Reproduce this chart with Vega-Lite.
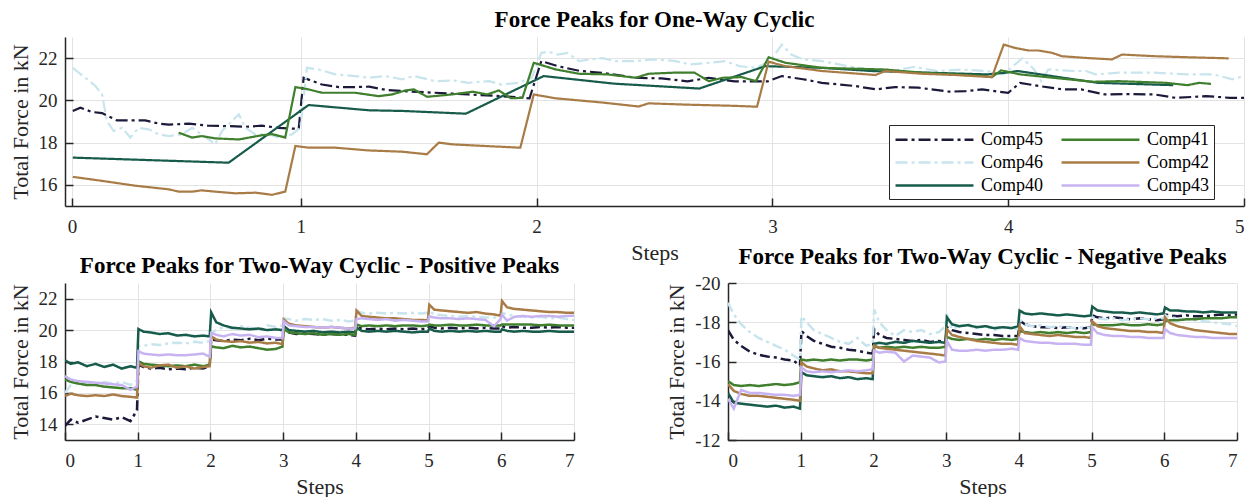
{
 "$schema": "https://vega.github.io/schema/vega-lite/v6.json",
 "padding": {"left": 8, "top": 9, "right": 5, "bottom": 0},
 "background": "white",
 "config": {
  "font": "Liberation Serif",
  "view": {"stroke": null},
  "title": {"font": "Liberation Serif", "fontSize": 23, "fontWeight": "bold", "color": "black", "anchor": "middle", "offset": 5, "frame": "group"},
  "axis": {"labelFont": "Liberation Serif", "labelFontSize": 19, "labelColor": "#262626", "titleFont": "Liberation Serif", "titleFontSize": 22, "titleFontWeight": "normal", "titleColor": "#262626", "domainColor": "#262626", "domainWidth": 1.5, "tickColor": "#262626", "tickSize": -8, "tickWidth": 1.5, "gridColor": "#e3e3e3", "gridWidth": 1, "labelPadding": 16, "titlePadding": 6},
  "axisX": {"labelPadding": 19},
  "axisY": {"labelPadding": 16},
  "legend": {"labelFont": "Liberation Serif", "labelFontSize": 18, "labelColor": "black", "strokeColor": "#262626", "fillColor": "white", "padding": 4, "rowPadding": 3, "columnPadding": 12, "symbolOffset": 31, "labelOffset": 36, "symbolType": "M-4.33,0H4.33", "symbolSize": 324, "symbolStrokeWidth": 2.5, "labelLimit": 200}
 },
 "datasets": {
  "top": [
   {"s":"Comp45","x":0.033,"y":19.5},{"s":"Comp45","x":0.065,"y":19.65},{"s":"Comp45","x":0.115,"y":19.45},{"s":"Comp45","x":0.157,"y":19.4},{"s":"Comp45","x":0.22,"y":19.05},{"s":"Comp45","x":0.298,"y":19.05},{"s":"Comp45","x":0.34,"y":19.05},{"s":"Comp45","x":0.397,"y":18.9},{"s":"Comp45","x":0.44,"y":18.85},{"s":"Comp45","x":0.525,"y":18.9},{"s":"Comp45","x":0.61,"y":18.8},{"s":"Comp45","x":0.694,"y":18.78},{"s":"Comp45","x":0.765,"y":18.75},{"s":"Comp45","x":0.835,"y":18.8},{"s":"Comp45","x":0.906,"y":18.7},{"s":"Comp45","x":0.991,"y":18.65},{"s":"Comp45","x":1.012,"y":21.07},{"s":"Comp45","x":1.09,"y":20.75},{"s":"Comp45","x":1.16,"y":20.63},{"s":"Comp45","x":1.23,"y":20.63},{"s":"Comp45","x":1.29,"y":20.65},{"s":"Comp45","x":1.36,"y":20.5},{"s":"Comp45","x":1.43,"y":20.44},{"s":"Comp45","x":1.57,"y":20.36},{"s":"Comp45","x":1.71,"y":20.28},{"s":"Comp45","x":1.85,"y":20.2},{"s":"Comp45","x":1.97,"y":20.1},{"s":"Comp45","x":2.02,"y":21.86},{"s":"Comp45","x":2.09,"y":21.62},{"s":"Comp45","x":2.18,"y":21.4},{"s":"Comp45","x":2.28,"y":21.3},{"s":"Comp45","x":2.42,"y":21.07},{"s":"Comp45","x":2.53,"y":21.04},{"s":"Comp45","x":2.64,"y":20.9},{"s":"Comp45","x":2.73,"y":21.07},{"s":"Comp45","x":2.84,"y":20.9},{"s":"Comp45","x":2.98,"y":20.9},{"s":"Comp45","x":3.04,"y":21.15},{"s":"Comp45","x":3.13,"y":21.0},{"s":"Comp45","x":3.21,"y":20.83},{"s":"Comp45","x":3.35,"y":20.68},{"s":"Comp45","x":3.44,"y":20.52},{"s":"Comp45","x":3.52,"y":20.63},{"s":"Comp45","x":3.62,"y":20.6},{"s":"Comp45","x":3.75,"y":20.41},{"s":"Comp45","x":3.82,"y":20.44},{"s":"Comp45","x":3.89,"y":20.52},{"s":"Comp45","x":3.96,"y":20.41},{"s":"Comp45","x":4.0,"y":20.36},{"s":"Comp45","x":4.05,"y":20.83},{"s":"Comp45","x":4.13,"y":20.68},{"s":"Comp45","x":4.23,"y":20.52},{"s":"Comp45","x":4.31,"y":20.52},{"s":"Comp45","x":4.41,"y":20.28},{"s":"Comp45","x":4.51,"y":20.3},{"s":"Comp45","x":4.62,"y":20.28},{"s":"Comp45","x":4.71,"y":20.12},{"s":"Comp45","x":4.84,"y":20.2},{"s":"Comp45","x":4.94,"y":20.12},{"s":"Comp45","x":5.0,"y":20.12},
   {"s":"Comp46","x":0.033,"y":21.54},{"s":"Comp46","x":0.086,"y":21.07},{"s":"Comp46","x":0.129,"y":20.68},{"s":"Comp46","x":0.157,"y":20.28},{"s":"Comp46","x":0.178,"y":19.02},{"s":"Comp46","x":0.206,"y":18.55},{"s":"Comp46","x":0.242,"y":18.7},{"s":"Comp46","x":0.277,"y":18.24},{"s":"Comp46","x":0.312,"y":18.7},{"s":"Comp46","x":0.355,"y":18.63},{"s":"Comp46","x":0.397,"y":18.39},{"s":"Comp46","x":0.44,"y":18.31},{"s":"Comp46","x":0.496,"y":18.39},{"s":"Comp46","x":0.539,"y":18.7},{"s":"Comp46","x":0.58,"y":18.39},{"s":"Comp46","x":0.637,"y":17.92},{"s":"Comp46","x":0.666,"y":18.55},{"s":"Comp46","x":0.708,"y":19.02},{"s":"Comp46","x":0.737,"y":19.34},{"s":"Comp46","x":0.765,"y":18.7},{"s":"Comp46","x":0.807,"y":18.39},{"s":"Comp46","x":0.864,"y":18.39},{"s":"Comp46","x":0.906,"y":18.24},{"s":"Comp46","x":0.963,"y":18.39},{"s":"Comp46","x":0.998,"y":18.7},{"s":"Comp46","x":1.026,"y":21.54},{"s":"Comp46","x":1.076,"y":21.46},{"s":"Comp46","x":1.146,"y":21.23},{"s":"Comp46","x":1.231,"y":21.15},{"s":"Comp46","x":1.288,"y":21.07},{"s":"Comp46","x":1.358,"y":21.15},{"s":"Comp46","x":1.429,"y":21.0},{"s":"Comp46","x":1.48,"y":21.15},{"s":"Comp46","x":1.57,"y":20.91},{"s":"Comp46","x":1.65,"y":20.94},{"s":"Comp46","x":1.71,"y":20.83},{"s":"Comp46","x":1.8,"y":20.91},{"s":"Comp46","x":1.85,"y":20.75},{"s":"Comp46","x":1.92,"y":20.83},{"s":"Comp46","x":1.98,"y":21.07},{"s":"Comp46","x":2.02,"y":22.25},{"s":"Comp46","x":2.05,"y":22.3},{"s":"Comp46","x":2.09,"y":22.17},{"s":"Comp46","x":2.13,"y":22.25},{"s":"Comp46","x":2.18,"y":21.86},{"s":"Comp46","x":2.23,"y":21.94},{"s":"Comp46","x":2.28,"y":22.0},{"s":"Comp46","x":2.33,"y":21.86},{"s":"Comp46","x":2.42,"y":21.86},{"s":"Comp46","x":2.5,"y":21.94},{"s":"Comp46","x":2.59,"y":21.86},{"s":"Comp46","x":2.65,"y":21.7},{"s":"Comp46","x":2.73,"y":21.78},{"s":"Comp46","x":2.8,"y":21.86},{"s":"Comp46","x":2.86,"y":21.62},{"s":"Comp46","x":2.93,"y":21.54},{"s":"Comp46","x":2.99,"y":21.86},{"s":"Comp46","x":3.04,"y":22.64},{"s":"Comp46","x":3.08,"y":22.17},{"s":"Comp46","x":3.13,"y":21.94},{"s":"Comp46","x":3.21,"y":21.86},{"s":"Comp46","x":3.32,"y":21.62},{"s":"Comp46","x":3.42,"y":21.46},{"s":"Comp46","x":3.5,"y":21.39},{"s":"Comp46","x":3.6,"y":21.58},{"s":"Comp46","x":3.7,"y":21.39},{"s":"Comp46","x":3.8,"y":21.46},{"s":"Comp46","x":3.91,"y":21.39},{"s":"Comp46","x":3.98,"y":21.23},{"s":"Comp46","x":4.06,"y":22.0},{"s":"Comp46","x":4.11,"y":21.46},{"s":"Comp46","x":4.14,"y":20.91},{"s":"Comp46","x":4.17,"y":21.46},{"s":"Comp46","x":4.28,"y":21.39},{"s":"Comp46","x":4.33,"y":21.39},{"s":"Comp46","x":4.37,"y":21.23},{"s":"Comp46","x":4.47,"y":21.31},{"s":"Comp46","x":4.62,"y":21.31},{"s":"Comp46","x":4.76,"y":21.23},{"s":"Comp46","x":4.87,"y":21.23},{"s":"Comp46","x":4.95,"y":21.0},{"s":"Comp46","x":5.0,"y":21.15},
   {"s":"Comp40","x":0.033,"y":17.29},{"s":"Comp40","x":0.694,"y":17.05},{"s":"Comp40","x":1.033,"y":19.78},{"s":"Comp40","x":1.29,"y":19.53},{"s":"Comp40","x":1.43,"y":19.5},{"s":"Comp40","x":1.7,"y":19.37},{"s":"Comp40","x":2.03,"y":21.15},{"s":"Comp40","x":2.33,"y":20.79},{"s":"Comp40","x":2.69,"y":20.56},{"s":"Comp40","x":2.97,"y":21.62},{"s":"Comp40","x":3.21,"y":21.54},{"s":"Comp40","x":3.42,"y":21.39},{"s":"Comp40","x":3.91,"y":21.23},{"s":"Comp40","x":3.99,"y":21.31},{"s":"Comp40","x":4.04,"y":21.39},{"s":"Comp40","x":4.38,"y":20.83},{"s":"Comp40","x":4.7,"y":20.72},
   {"s":"Comp41","x":0.482,"y":18.47},{"s":"Comp41","x":0.539,"y":18.24},{"s":"Comp41","x":0.58,"y":18.31},{"s":"Comp41","x":0.637,"y":18.2},{"s":"Comp41","x":0.737,"y":18.15},{"s":"Comp41","x":0.835,"y":18.35},{"s":"Comp41","x":0.878,"y":18.4},{"s":"Comp41","x":0.934,"y":18.24},{"s":"Comp41","x":0.977,"y":20.63},{"s":"Comp41","x":1.033,"y":20.52},{"s":"Comp41","x":1.09,"y":20.36},{"s":"Comp41","x":1.231,"y":20.36},{"s":"Comp41","x":1.33,"y":20.2},{"s":"Comp41","x":1.387,"y":20.28},{"s":"Comp41","x":1.444,"y":20.47},{"s":"Comp41","x":1.48,"y":20.52},{"s":"Comp41","x":1.535,"y":20.17},{"s":"Comp41","x":1.641,"y":20.28},{"s":"Comp41","x":1.73,"y":20.41},{"s":"Comp41","x":1.79,"y":20.28},{"s":"Comp41","x":1.84,"y":20.47},{"s":"Comp41","x":1.89,"y":20.1},{"s":"Comp41","x":1.94,"y":20.12},{"s":"Comp41","x":1.988,"y":21.78},{"s":"Comp41","x":2.079,"y":21.47},{"s":"Comp41","x":2.18,"y":21.26},{"s":"Comp41","x":2.3,"y":21.23},{"s":"Comp41","x":2.42,"y":21.07},{"s":"Comp41","x":2.475,"y":21.26},{"s":"Comp41","x":2.58,"y":21.31},{"s":"Comp41","x":2.67,"y":21.31},{"s":"Comp41","x":2.73,"y":20.91},{"s":"Comp41","x":2.79,"y":21.07},{"s":"Comp41","x":2.87,"y":21.1},{"s":"Comp41","x":2.93,"y":20.91},{"s":"Comp41","x":2.984,"y":22.04},{"s":"Comp41","x":3.055,"y":21.78},{"s":"Comp41","x":3.21,"y":21.54},{"s":"Comp41","x":3.479,"y":21.46},{"s":"Comp41","x":3.634,"y":21.31},{"s":"Comp41","x":3.9,"y":21.15},{"s":"Comp41","x":3.931,"y":21.1},{"s":"Comp41","x":3.97,"y":21.42},{"s":"Comp41","x":4.05,"y":21.23},{"s":"Comp41","x":4.19,"y":21.07},{"s":"Comp41","x":4.36,"y":20.88},{"s":"Comp41","x":4.47,"y":20.91},{"s":"Comp41","x":4.67,"y":20.83},{"s":"Comp41","x":4.76,"y":20.72},{"s":"Comp41","x":4.81,"y":20.83},{"s":"Comp41","x":4.86,"y":20.78},
   {"s":"Comp42","x":0.033,"y":16.38},{"s":"Comp42","x":0.157,"y":16.19},{"s":"Comp42","x":0.298,"y":15.96},{"s":"Comp42","x":0.44,"y":15.79},{"s":"Comp42","x":0.482,"y":15.68},{"s":"Comp42","x":0.539,"y":15.68},{"s":"Comp42","x":0.58,"y":15.74},{"s":"Comp42","x":0.637,"y":15.68},{"s":"Comp42","x":0.722,"y":15.6},{"s":"Comp42","x":0.807,"y":15.63},{"s":"Comp42","x":0.878,"y":15.53},{"s":"Comp42","x":0.934,"y":15.68},{"s":"Comp42","x":0.977,"y":17.84},{"s":"Comp42","x":1.033,"y":17.76},{"s":"Comp42","x":1.146,"y":17.76},{"s":"Comp42","x":1.288,"y":17.63},{"s":"Comp42","x":1.43,"y":17.57},{"s":"Comp42","x":1.535,"y":17.45},{"s":"Comp42","x":1.585,"y":18.0},{"s":"Comp42","x":1.641,"y":17.92},{"s":"Comp42","x":1.782,"y":17.84},{"s":"Comp42","x":1.931,"y":17.76},{"s":"Comp42","x":1.988,"y":20.28},{"s":"Comp42","x":2.079,"y":20.1},{"s":"Comp42","x":2.277,"y":19.9},{"s":"Comp42","x":2.433,"y":19.71},{"s":"Comp42","x":2.475,"y":19.86},{"s":"Comp42","x":2.631,"y":19.8},{"s":"Comp42","x":2.843,"y":19.74},{"s":"Comp42","x":2.935,"y":19.7},{"s":"Comp42","x":2.984,"y":21.83},{"s":"Comp42","x":3.055,"y":21.62},{"s":"Comp42","x":3.21,"y":21.39},{"s":"Comp42","x":3.437,"y":21.2},{"s":"Comp42","x":3.479,"y":21.39},{"s":"Comp42","x":3.634,"y":21.26},{"s":"Comp42","x":3.776,"y":21.2},{"s":"Comp42","x":3.931,"y":21.1},{"s":"Comp42","x":3.981,"y":22.64},{"s":"Comp42","x":4.03,"y":22.48},{"s":"Comp42","x":4.087,"y":22.36},{"s":"Comp42","x":4.129,"y":22.36},{"s":"Comp42","x":4.186,"y":22.25},{"s":"Comp42","x":4.228,"y":22.09},{"s":"Comp42","x":4.341,"y":22.0},{"s":"Comp42","x":4.44,"y":21.94},{"s":"Comp42","x":4.483,"y":22.17},{"s":"Comp42","x":4.624,"y":22.09},{"s":"Comp42","x":4.765,"y":22.04},{"s":"Comp42","x":4.935,"y":21.99}
  ],
  "pos": [
   {"x":0,"Comp45":13.9,"Comp46":16.0,"Comp40":18.08,"Comp41":16.86,"Comp42":15.8,"Comp43":17.07},
   {"x":0.08,"Comp45":14.3,"Comp46":16.5,"Comp40":17.85,"Comp41":16.7,"Comp42":15.95,"Comp43":16.85},
   {"x":0.18,"Comp45":14.1,"Comp46":16.6,"Comp40":17.95,"Comp41":16.6,"Comp42":15.85,"Comp43":16.75},
   {"x":0.3,"Comp45":14.3,"Comp46":16.7,"Comp40":17.7,"Comp41":16.5,"Comp42":15.8,"Comp43":16.7},
   {"x":0.42,"Comp45":14.5,"Comp46":16.6,"Comp40":17.85,"Comp41":16.5,"Comp42":15.85,"Comp43":16.65},
   {"x":0.54,"Comp45":14.4,"Comp46":16.7,"Comp40":17.65,"Comp41":16.4,"Comp42":15.8,"Comp43":16.6},
   {"x":0.66,"Comp45":14.3,"Comp46":16.6,"Comp40":17.8,"Comp41":16.35,"Comp42":15.9,"Comp43":16.55},
   {"x":0.78,"Comp45":14.45,"Comp46":16.7,"Comp40":17.55,"Comp41":16.3,"Comp42":15.8,"Comp43":16.5},
   {"x":0.9,"Comp45":14.2,"Comp46":16.5,"Comp40":17.7,"Comp41":16.3,"Comp42":15.75,"Comp43":16.2},
   {"x":0.99,"Comp45":14.9,"Comp46":16.8,"Comp40":17.6,"Comp41":16.2,"Comp42":15.7,"Comp43":16.4},
   {"x":1.01,"Comp45":17.8,"Comp46":18.97,"Comp40":20.07,"Comp41":18.02,"Comp42":17.91,"Comp43":18.66},
   {"x":1.08,"Comp45":17.65,"Comp46":19.0,"Comp40":19.9,"Comp41":17.85,"Comp42":17.7,"Comp43":18.5},
   {"x":1.18,"Comp45":17.55,"Comp46":19.1,"Comp40":19.85,"Comp41":17.8,"Comp42":17.6,"Comp43":18.45},
   {"x":1.3,"Comp45":17.6,"Comp46":19.05,"Comp40":19.75,"Comp41":17.75,"Comp42":17.75,"Comp43":18.4},
   {"x":1.42,"Comp45":17.5,"Comp46":19.15,"Comp40":19.8,"Comp41":17.7,"Comp42":17.8,"Comp43":18.45},
   {"x":1.54,"Comp45":17.55,"Comp46":19.2,"Comp40":19.65,"Comp41":17.75,"Comp42":17.6,"Comp43":18.4},
   {"x":1.66,"Comp45":17.5,"Comp46":19.15,"Comp40":19.7,"Comp41":17.7,"Comp42":17.7,"Comp43":18.4},
   {"x":1.78,"Comp45":17.6,"Comp46":19.25,"Comp40":19.6,"Comp41":17.8,"Comp42":17.55,"Comp43":18.45},
   {"x":1.9,"Comp45":17.55,"Comp46":19.2,"Comp40":19.65,"Comp41":17.7,"Comp42":17.65,"Comp43":18.5},
   {"x":1.99,"Comp45":17.7,"Comp46":19.3,"Comp40":19.6,"Comp41":17.8,"Comp42":17.7,"Comp43":18.3},
   {"x":2.01,"Comp45":19.4,"Comp46":19.8,"Comp40":21.13,"Comp41":18.97,"Comp42":19.6,"Comp43":19.82},
   {"x":2.08,"Comp45":19.35,"Comp46":20.0,"Comp40":20.5,"Comp41":18.9,"Comp42":19.4,"Comp43":19.7},
   {"x":2.18,"Comp45":19.3,"Comp46":20.2,"Comp40":20.3,"Comp41":18.85,"Comp42":19.3,"Comp43":19.6},
   {"x":2.3,"Comp45":19.4,"Comp46":20.1,"Comp40":20.15,"Comp41":19.0,"Comp42":19.25,"Comp43":19.75},
   {"x":2.42,"Comp45":19.35,"Comp46":20.25,"Comp40":20.1,"Comp41":18.9,"Comp42":19.3,"Comp43":19.65},
   {"x":2.54,"Comp45":19.45,"Comp46":20.15,"Comp40":20.05,"Comp41":18.95,"Comp42":19.2,"Comp43":19.7},
   {"x":2.66,"Comp45":19.35,"Comp46":20.0,"Comp40":20.1,"Comp41":18.85,"Comp42":19.25,"Comp43":19.55},
   {"x":2.78,"Comp45":19.45,"Comp46":20.3,"Comp40":20.0,"Comp41":18.75,"Comp42":19.15,"Comp43":19.6},
   {"x":2.9,"Comp45":19.4,"Comp46":20.2,"Comp40":20.05,"Comp41":18.8,"Comp42":19.2,"Comp43":19.5},
   {"x":2.99,"Comp45":19.4,"Comp46":20.3,"Comp40":20.0,"Comp41":18.95,"Comp42":19.1,"Comp43":19.5},
   {"x":3.01,"Comp45":19.95,"Comp46":20.75,"Comp40":20.25,"Comp41":20.05,"Comp42":20.67,"Comp43":20.56},
   {"x":3.08,"Comp45":19.85,"Comp46":20.7,"Comp40":20.0,"Comp41":19.85,"Comp42":20.4,"Comp43":20.3},
   {"x":3.18,"Comp45":19.75,"Comp46":20.6,"Comp40":19.95,"Comp41":19.8,"Comp42":20.3,"Comp43":20.25},
   {"x":3.3,"Comp45":19.8,"Comp46":20.7,"Comp40":19.9,"Comp41":19.75,"Comp42":20.25,"Comp43":20.2},
   {"x":3.42,"Comp45":19.75,"Comp46":20.65,"Comp40":19.95,"Comp41":19.8,"Comp42":20.2,"Comp43":20.2},
   {"x":3.54,"Comp45":19.7,"Comp46":20.7,"Comp40":19.85,"Comp41":19.7,"Comp42":20.15,"Comp43":20.15},
   {"x":3.66,"Comp45":19.75,"Comp46":20.6,"Comp40":19.9,"Comp41":19.75,"Comp42":20.2,"Comp43":20.2},
   {"x":3.78,"Comp45":19.7,"Comp46":20.65,"Comp40":19.85,"Comp41":19.7,"Comp42":20.15,"Comp43":20.15},
   {"x":3.9,"Comp45":19.7,"Comp46":20.55,"Comp40":19.9,"Comp41":19.75,"Comp42":20.1,"Comp43":20.1},
   {"x":3.99,"Comp45":19.65,"Comp46":20.6,"Comp40":19.85,"Comp41":19.7,"Comp42":20.15,"Comp43":20.1},
   {"x":4.01,"Comp45":20.15,"Comp46":21.25,"Comp40":20.15,"Comp41":20.35,"Comp42":21.24,"Comp43":20.7},
   {"x":4.08,"Comp45":20.1,"Comp46":21.1,"Comp40":19.95,"Comp41":20.25,"Comp42":20.9,"Comp43":20.75},
   {"x":4.18,"Comp45":20.05,"Comp46":21.05,"Comp40":19.9,"Comp41":20.3,"Comp42":20.85,"Comp43":20.7},
   {"x":4.3,"Comp45":20.1,"Comp46":21.1,"Comp40":19.95,"Comp41":20.25,"Comp42":20.8,"Comp43":20.65},
   {"x":4.42,"Comp45":20.05,"Comp46":21.05,"Comp40":19.9,"Comp41":20.3,"Comp42":20.75,"Comp43":20.7},
   {"x":4.54,"Comp45":20.1,"Comp46":21.1,"Comp40":19.95,"Comp41":20.25,"Comp42":20.75,"Comp43":20.6},
   {"x":4.66,"Comp45":20.05,"Comp46":21.05,"Comp40":19.9,"Comp41":20.3,"Comp42":20.7,"Comp43":20.65},
   {"x":4.78,"Comp45":20.1,"Comp46":21.1,"Comp40":19.85,"Comp41":20.3,"Comp42":20.65,"Comp43":20.6},
   {"x":4.9,"Comp45":20.05,"Comp46":21.05,"Comp40":19.9,"Comp41":20.25,"Comp42":20.65,"Comp43":20.55},
   {"x":4.99,"Comp45":20.1,"Comp46":21.1,"Comp40":19.9,"Comp41":20.3,"Comp42":20.62,"Comp43":20.55},
   {"x":5.01,"Comp45":20.25,"Comp46":21.2,"Comp40":20.1,"Comp41":20.35,"Comp42":21.62,"Comp43":20.88},
   {"x":5.08,"Comp45":20.15,"Comp46":21.0,"Comp40":19.95,"Comp41":20.3,"Comp42":21.3,"Comp43":20.8},
   {"x":5.18,"Comp45":20.1,"Comp46":20.95,"Comp40":19.9,"Comp41":20.3,"Comp42":21.25,"Comp43":20.75},
   {"x":5.3,"Comp45":20.15,"Comp46":20.9,"Comp40":19.95,"Comp41":20.35,"Comp42":21.2,"Comp43":20.75},
   {"x":5.42,"Comp45":20.1,"Comp46":20.85,"Comp40":19.9,"Comp41":20.3,"Comp42":21.15,"Comp43":20.7},
   {"x":5.54,"Comp45":20.15,"Comp46":20.9,"Comp40":19.95,"Comp41":20.3,"Comp42":21.1,"Comp43":20.75},
   {"x":5.66,"Comp45":20.1,"Comp46":20.85,"Comp40":19.9,"Comp41":20.35,"Comp42":21.15,"Comp43":20.7},
   {"x":5.78,"Comp45":20.15,"Comp46":20.8,"Comp40":19.95,"Comp41":20.3,"Comp42":21.05,"Comp43":20.65},
   {"x":5.9,"Comp45":20.1,"Comp46":20.8,"Comp40":19.9,"Comp41":20.3,"Comp42":21.0,"Comp43":20.25},
   {"x":5.99,"Comp45":20.1,"Comp46":20.75,"Comp40":19.9,"Comp41":20.3,"Comp42":20.92,"Comp43":20.7},
   {"x":6.01,"Comp45":20.25,"Comp46":21.1,"Comp40":20.05,"Comp41":20.35,"Comp42":21.85,"Comp43":20.98},
   {"x":6.08,"Comp45":20.15,"Comp46":21.0,"Comp40":19.95,"Comp41":20.35,"Comp42":21.45,"Comp43":20.6},
   {"x":6.18,"Comp45":20.2,"Comp46":20.9,"Comp40":19.9,"Comp41":20.35,"Comp42":21.35,"Comp43":20.85},
   {"x":6.3,"Comp45":20.15,"Comp46":20.85,"Comp40":19.95,"Comp41":20.35,"Comp42":21.3,"Comp43":20.9},
   {"x":6.42,"Comp45":20.15,"Comp46":20.8,"Comp40":19.9,"Comp41":20.35,"Comp42":21.25,"Comp43":20.85},
   {"x":6.54,"Comp45":20.2,"Comp46":20.85,"Comp40":19.9,"Comp41":20.3,"Comp42":21.2,"Comp43":20.9},
   {"x":6.66,"Comp45":20.15,"Comp46":20.75,"Comp40":19.95,"Comp41":20.35,"Comp42":21.15,"Comp43":20.9},
   {"x":6.78,"Comp45":20.2,"Comp46":20.8,"Comp40":19.9,"Comp41":20.3,"Comp42":21.15,"Comp43":20.85},
   {"x":6.9,"Comp45":20.15,"Comp46":20.7,"Comp40":19.9,"Comp41":20.3,"Comp42":21.1,"Comp43":20.9},
   {"x":7.0,"Comp45":20.15,"Comp46":20.65,"Comp40":19.9,"Comp41":20.3,"Comp42":21.1,"Comp43":20.92}
  ],
  "neg": [
   {"x":0,"Comp45":-17.6,"Comp46":-19.0,"Comp40":-14.4,"Comp41":-15.0,"Comp42":-14.85,"Comp43":-14.1},
   {"x":0.08,"Comp45":-17.1,"Comp46":-18.4,"Comp40":-13.9,"Comp41":-14.8,"Comp42":-14.5,"Comp43":-13.6},
   {"x":0.18,"Comp45":-16.8,"Comp46":-17.9,"Comp40":-13.85,"Comp41":-14.75,"Comp42":-14.35,"Comp43":-14.55},
   {"x":0.3,"Comp45":-16.5,"Comp46":-17.5,"Comp40":-13.8,"Comp41":-14.8,"Comp42":-14.25,"Comp43":-14.4},
   {"x":0.42,"Comp45":-16.35,"Comp46":-17.2,"Comp40":-13.75,"Comp41":-14.75,"Comp42":-14.25,"Comp43":-14.4},
   {"x":0.54,"Comp45":-16.25,"Comp46":-17.0,"Comp40":-13.7,"Comp41":-14.8,"Comp42":-14.2,"Comp43":-14.35},
   {"x":0.66,"Comp45":-16.2,"Comp46":-16.8,"Comp40":-13.75,"Comp41":-14.85,"Comp42":-14.15,"Comp43":-14.3},
   {"x":0.78,"Comp45":-16.1,"Comp46":-16.6,"Comp40":-13.65,"Comp41":-14.8,"Comp42":-14.1,"Comp43":-14.3},
   {"x":0.9,"Comp45":-16.05,"Comp46":-16.3,"Comp40":-13.7,"Comp41":-14.85,"Comp42":-14.05,"Comp43":-14.25},
   {"x":0.99,"Comp45":-15.8,"Comp46":-16.1,"Comp40":-13.6,"Comp41":-14.95,"Comp42":-14.0,"Comp43":-14.3},
   {"x":1.01,"Comp45":-17.55,"Comp46":-18.3,"Comp40":-15.45,"Comp41":-16.1,"Comp42":-15.95,"Comp43":-15.7},
   {"x":1.08,"Comp45":-17.3,"Comp46":-18.0,"Comp40":-15.3,"Comp41":-16.05,"Comp42":-15.75,"Comp43":-15.5},
   {"x":1.18,"Comp45":-17.05,"Comp46":-17.6,"Comp40":-15.25,"Comp41":-16.1,"Comp42":-15.65,"Comp43":-15.45},
   {"x":1.3,"Comp45":-16.9,"Comp46":-17.4,"Comp40":-15.2,"Comp41":-16.05,"Comp42":-15.55,"Comp43":-15.5},
   {"x":1.42,"Comp45":-16.75,"Comp46":-17.2,"Comp40":-15.25,"Comp41":-16.1,"Comp42":-15.6,"Comp43":-15.45},
   {"x":1.54,"Comp45":-16.7,"Comp46":-17.0,"Comp40":-15.15,"Comp41":-16.05,"Comp42":-15.5,"Comp43":-15.5},
   {"x":1.66,"Comp45":-16.6,"Comp46":-16.9,"Comp40":-15.2,"Comp41":-16.1,"Comp42":-15.5,"Comp43":-15.55},
   {"x":1.78,"Comp45":-16.55,"Comp46":-17.2,"Comp40":-15.1,"Comp41":-16.1,"Comp42":-15.45,"Comp43":-15.5},
   {"x":1.9,"Comp45":-16.45,"Comp46":-16.8,"Comp40":-15.15,"Comp41":-16.05,"Comp42":-15.4,"Comp43":-15.55},
   {"x":1.99,"Comp45":-16.4,"Comp46":-16.9,"Comp40":-15.1,"Comp41":-16.1,"Comp42":-15.4,"Comp43":-15.6},
   {"x":2.01,"Comp45":-17.65,"Comp46":-18.65,"Comp40":-16.9,"Comp41":-16.8,"Comp42":-16.8,"Comp43":-16.55},
   {"x":2.08,"Comp45":-17.35,"Comp46":-18.0,"Comp40":-16.95,"Comp41":-16.7,"Comp42":-16.7,"Comp43":-16.45},
   {"x":2.18,"Comp45":-17.2,"Comp46":-17.6,"Comp40":-16.9,"Comp41":-16.75,"Comp42":-16.65,"Comp43":-16.5},
   {"x":2.3,"Comp45":-17.15,"Comp46":-17.3,"Comp40":-17.0,"Comp41":-16.7,"Comp42":-16.6,"Comp43":-16.45},
   {"x":2.42,"Comp45":-17.1,"Comp46":-17.6,"Comp40":-16.95,"Comp41":-16.75,"Comp42":-16.55,"Comp43":-16.0},
   {"x":2.54,"Comp45":-17.05,"Comp46":-17.5,"Comp40":-17.05,"Comp41":-16.7,"Comp42":-16.5,"Comp43":-16.3},
   {"x":2.66,"Comp45":-17.1,"Comp46":-17.6,"Comp40":-17.0,"Comp41":-16.75,"Comp42":-16.45,"Comp43":-16.25},
   {"x":2.78,"Comp45":-17.0,"Comp46":-17.4,"Comp40":-16.95,"Comp41":-16.7,"Comp42":-16.4,"Comp43":-16.2},
   {"x":2.9,"Comp45":-17.05,"Comp46":-17.5,"Comp40":-17.0,"Comp41":-16.7,"Comp42":-16.35,"Comp43":-15.95},
   {"x":2.99,"Comp45":-17.0,"Comp46":-17.8,"Comp40":-16.95,"Comp41":-16.75,"Comp42":-16.3,"Comp43":-16.0},
   {"x":3.01,"Comp45":-17.75,"Comp46":-18.4,"Comp40":-18.25,"Comp41":-17.25,"Comp42":-17.65,"Comp43":-17.05},
   {"x":3.08,"Comp45":-17.6,"Comp46":-17.65,"Comp40":-17.9,"Comp41":-17.15,"Comp42":-17.35,"Comp43":-16.6},
   {"x":3.18,"Comp45":-17.5,"Comp46":-17.8,"Comp40":-17.8,"Comp41":-17.1,"Comp42":-17.25,"Comp43":-16.55},
   {"x":3.3,"Comp45":-17.45,"Comp46":-17.9,"Comp40":-17.85,"Comp41":-17.15,"Comp42":-17.15,"Comp43":-16.55},
   {"x":3.42,"Comp45":-17.4,"Comp46":-17.7,"Comp40":-17.75,"Comp41":-17.1,"Comp42":-17.05,"Comp43":-16.6},
   {"x":3.54,"Comp45":-17.35,"Comp46":-17.8,"Comp40":-17.8,"Comp41":-17.15,"Comp42":-17.0,"Comp43":-16.55},
   {"x":3.66,"Comp45":-17.35,"Comp46":-17.6,"Comp40":-17.7,"Comp41":-17.1,"Comp42":-16.95,"Comp43":-16.6},
   {"x":3.78,"Comp45":-17.3,"Comp46":-17.75,"Comp40":-17.75,"Comp41":-17.15,"Comp42":-16.9,"Comp43":-16.6},
   {"x":3.9,"Comp45":-17.3,"Comp46":-17.7,"Comp40":-17.7,"Comp41":-17.1,"Comp42":-16.9,"Comp43":-16.65},
   {"x":3.99,"Comp45":-17.3,"Comp46":-17.65,"Comp40":-17.8,"Comp41":-17.15,"Comp42":-16.85,"Comp43":-16.6},
   {"x":4.01,"Comp45":-18.1,"Comp46":-18.15,"Comp40":-18.6,"Comp41":-17.55,"Comp42":-17.8,"Comp43":-17.2},
   {"x":4.08,"Comp45":-17.9,"Comp46":-17.9,"Comp40":-18.45,"Comp41":-17.5,"Comp42":-17.45,"Comp43":-17.05},
   {"x":4.18,"Comp45":-17.8,"Comp46":-17.8,"Comp40":-18.4,"Comp41":-17.45,"Comp42":-17.4,"Comp43":-17.0},
   {"x":4.3,"Comp45":-17.75,"Comp46":-17.85,"Comp40":-18.45,"Comp41":-17.5,"Comp42":-17.35,"Comp43":-16.95},
   {"x":4.42,"Comp45":-17.75,"Comp46":-17.75,"Comp40":-18.4,"Comp41":-17.45,"Comp42":-17.3,"Comp43":-16.95},
   {"x":4.54,"Comp45":-17.7,"Comp46":-17.8,"Comp40":-18.35,"Comp41":-17.5,"Comp42":-17.35,"Comp43":-16.9},
   {"x":4.66,"Comp45":-17.75,"Comp46":-17.75,"Comp40":-18.4,"Comp41":-17.45,"Comp42":-17.3,"Comp43":-16.9},
   {"x":4.78,"Comp45":-17.7,"Comp46":-17.7,"Comp40":-18.35,"Comp41":-17.5,"Comp42":-17.25,"Comp43":-16.9},
   {"x":4.9,"Comp45":-17.7,"Comp46":-17.75,"Comp40":-18.3,"Comp41":-17.45,"Comp42":-17.25,"Comp43":-16.85},
   {"x":4.99,"Comp45":-17.75,"Comp46":-17.7,"Comp40":-18.35,"Comp41":-17.5,"Comp42":-17.2,"Comp43":-16.85},
   {"x":5.01,"Comp45":-18.35,"Comp46":-18.25,"Comp40":-18.8,"Comp41":-17.9,"Comp42":-18.05,"Comp43":-17.75},
   {"x":5.08,"Comp45":-18.25,"Comp46":-18.2,"Comp40":-18.6,"Comp41":-17.85,"Comp42":-17.8,"Comp43":-17.45},
   {"x":5.18,"Comp45":-18.2,"Comp46":-18.15,"Comp40":-18.55,"Comp41":-17.85,"Comp42":-17.7,"Comp43":-17.35},
   {"x":5.3,"Comp45":-18.25,"Comp46":-18.2,"Comp40":-18.5,"Comp41":-17.85,"Comp42":-17.65,"Comp43":-17.3},
   {"x":5.42,"Comp45":-18.2,"Comp46":-18.1,"Comp40":-18.5,"Comp41":-17.9,"Comp42":-17.6,"Comp43":-17.3},
   {"x":5.54,"Comp45":-18.15,"Comp46":-18.15,"Comp40":-18.45,"Comp41":-17.85,"Comp42":-17.55,"Comp43":-17.25},
   {"x":5.66,"Comp45":-18.2,"Comp46":-18.2,"Comp40":-18.5,"Comp41":-17.85,"Comp42":-17.55,"Comp43":-17.25},
   {"x":5.78,"Comp45":-18.15,"Comp46":-18.15,"Comp40":-18.45,"Comp41":-17.9,"Comp42":-17.5,"Comp43":-17.2},
   {"x":5.9,"Comp45":-18.1,"Comp46":-18.2,"Comp40":-18.4,"Comp41":-17.85,"Comp42":-17.5,"Comp43":-17.2},
   {"x":5.99,"Comp45":-18.15,"Comp46":-18.2,"Comp40":-18.45,"Comp41":-17.9,"Comp42":-17.45,"Comp43":-17.2},
   {"x":6.01,"Comp45":-18.4,"Comp46":-18.35,"Comp40":-18.75,"Comp41":-18.05,"Comp42":-18.25,"Comp43":-17.65},
   {"x":6.08,"Comp45":-18.35,"Comp46":-18.25,"Comp40":-18.6,"Comp41":-18.1,"Comp42":-17.95,"Comp43":-17.45},
   {"x":6.18,"Comp45":-18.3,"Comp46":-18.2,"Comp40":-18.6,"Comp41":-18.1,"Comp42":-17.8,"Comp43":-17.35},
   {"x":6.3,"Comp45":-18.35,"Comp46":-18.15,"Comp40":-18.55,"Comp41":-18.15,"Comp42":-17.7,"Comp43":-17.3},
   {"x":6.42,"Comp45":-18.3,"Comp46":-18.1,"Comp40":-18.55,"Comp41":-18.15,"Comp42":-17.6,"Comp43":-17.25},
   {"x":6.54,"Comp45":-18.3,"Comp46":-18.05,"Comp40":-18.5,"Comp41":-18.2,"Comp42":-17.55,"Comp43":-17.25},
   {"x":6.66,"Comp45":-18.35,"Comp46":-18.0,"Comp40":-18.55,"Comp41":-18.2,"Comp42":-17.5,"Comp43":-17.2},
   {"x":6.78,"Comp45":-18.4,"Comp46":-17.95,"Comp40":-18.5,"Comp41":-18.2,"Comp42":-17.45,"Comp43":-17.2},
   {"x":6.9,"Comp45":-18.35,"Comp46":-17.9,"Comp40":-18.5,"Comp41":-18.25,"Comp42":-17.4,"Comp43":-17.2},
   {"x":7.0,"Comp45":-18.4,"Comp46":-17.8,"Comp40":-18.5,"Comp41":-18.25,"Comp42":-17.4,"Comp43":-17.2}
  ]
 },
 "vconcat": [
  {
   "title": "Force Peaks for One-Way Cyclic",
   "width": 1179,
   "height": 169,
   "data": {"name": "top"},
   "mark": {"type": "line", "strokeWidth": 2.2, "clip": true},
   "encoding": {
    "x": {"field": "x", "type": "quantitative", "scale": {"domain": [0, 5], "nice": false}, "axis": {"title": "Steps", "values": [0.03, 1, 2, 3, 4, 5], "labelExpr": "round(datum.value)"}},
    "y": {"field": "y", "type": "quantitative", "scale": {"domain": [15, 23], "nice": false, "zero": false}, "axis": {"title": "Total Force in kN", "values": [16, 18, 20, 22]}},
    "color": {"field": "s", "type": "nominal", "scale": {"domain": ["Comp45", "Comp46", "Comp40", "Comp41", "Comp42", "Comp43"], "range": ["#1b1a3b", "#c8e5ee", "#175b4b", "#3f7f2e", "#a97c47", "#c7b3f2"]}, "legend": {"orient": "none", "legendX": 824, "legendY": 88, "columns": 2, "title": null}},
    "strokeDash": {"field": "s", "type": "nominal", "scale": {"domain": ["Comp45", "Comp46", "Comp40", "Comp41", "Comp42", "Comp43"], "range": [[12, 4, 3, 4], [12, 4, 3, 4], [1, 0], [1, 0], [1, 0], [1, 0]]}, "legend": {"orient": "none", "legendX": 824, "legendY": 88, "columns": 2, "title": null}}
   }
  },
  {
   "hconcat": [
    {
     "title": "Force Peaks for Two-Way Cyclic - Positive Peaks",
     "width": 509,
     "height": 157,
     "data": {"name": "pos"},
     "transform": [{"fold": ["Comp45", "Comp46", "Comp40", "Comp41", "Comp42", "Comp43"], "as": ["s", "y"]}],
     "mark": {"type": "line", "strokeWidth": 2.5, "clip": true},
     "encoding": {
      "x": {"field": "x", "type": "quantitative", "scale": {"domain": [0, 7], "nice": false}, "axis": {"title": "Steps", "values": [0, 1, 2, 3, 4, 5, 6, 7]}},
      "y": {"field": "y", "type": "quantitative", "scale": {"domain": [13, 23], "nice": false, "zero": false}, "axis": {"title": "Total Force in kN", "values": [14, 16, 18, 20, 22]}},
      "color": {"field": "s", "type": "nominal", "scale": {"domain": ["Comp45", "Comp46", "Comp40", "Comp41", "Comp42", "Comp43"], "range": ["#1b1a3b", "#c8e5ee", "#175b4b", "#3f7f2e", "#a97c47", "#c7b3f2"]}, "legend": null},
      "strokeDash": {"field": "s", "type": "nominal", "scale": {"domain": ["Comp45", "Comp46", "Comp40", "Comp41", "Comp42", "Comp43"], "range": [[10, 4, 3, 4], [10, 4, 3, 4], [1, 0], [1, 0], [1, 0], [1, 0]]}, "legend": null}
     }
    },
    {
     "title": "Force Peaks for Two-Way Cyclic - Negative Peaks",
     "width": 509,
     "height": 157,
     "data": {"name": "neg"},
     "transform": [{"fold": ["Comp45", "Comp46", "Comp40", "Comp41", "Comp42", "Comp43"], "as": ["s", "y"]}],
     "mark": {"type": "line", "strokeWidth": 2.5, "clip": true},
     "encoding": {
      "x": {"field": "x", "type": "quantitative", "scale": {"domain": [0, 7], "nice": false}, "axis": {"title": "Steps", "values": [0, 1, 2, 3, 4, 5, 6, 7]}},
      "y": {"field": "y", "type": "quantitative", "scale": {"domain": [-20, -12], "nice": false, "zero": false, "reverse": true}, "axis": {"title": "Total Force in kN", "values": [-20, -18, -16, -14, -12], "labelExpr": "toString(datum.value)"}},
      "color": {"field": "s", "type": "nominal", "scale": {"domain": ["Comp45", "Comp46", "Comp40", "Comp41", "Comp42", "Comp43"], "range": ["#1b1a3b", "#c8e5ee", "#175b4b", "#3f7f2e", "#a97c47", "#c7b3f2"]}, "legend": null},
      "strokeDash": {"field": "s", "type": "nominal", "scale": {"domain": ["Comp45", "Comp46", "Comp40", "Comp41", "Comp42", "Comp43"], "range": [[10, 4, 3, 4], [10, 4, 3, 4], [1, 0], [1, 0], [1, 0], [1, 0]]}, "legend": null}
     }
    }
   ],
   "spacing": 90
  }
 ],
 "spacing": -17,
 "resolve": {"scale": {"color": "independent", "strokeDash": "independent"}}
}
